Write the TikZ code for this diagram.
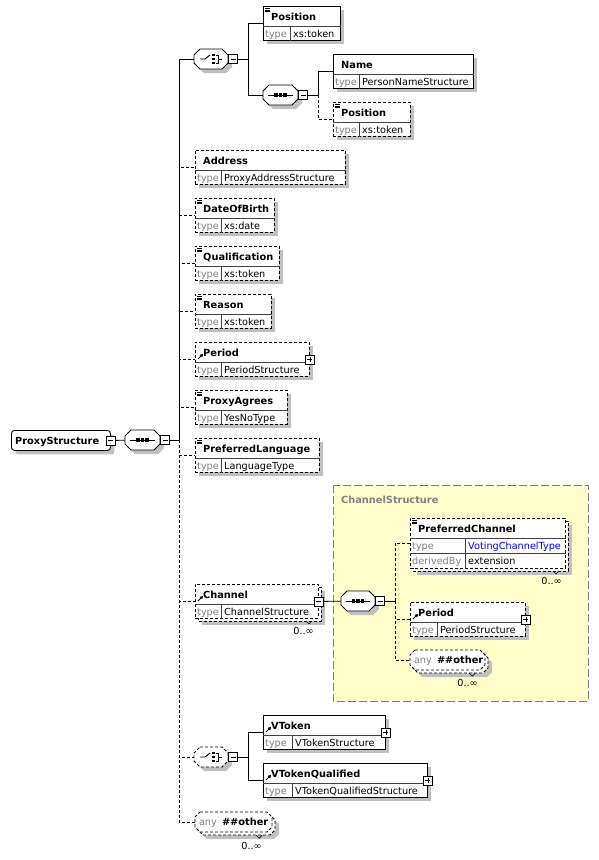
\documentclass[tikz,border=0pt]{standalone}
\usepackage{fontspec}
\setmainfont{DejaVu Sans}
\usetikzlibrary{calc,arrows.meta,shadows}

\definecolor{shadowgray}{RGB}{192,192,192}
\definecolor{lblgray}{RGB}{128,128,128}
\definecolor{ctyellow}{RGB}{255,255,204}
\definecolor{linkblue}{RGB}{0,0,255}

\tikzset{
  optline/.style={dash pattern=on 3pt off 2pt},
  boxsh/.style={drop shadow={shadow xshift=4pt,shadow yshift=-4pt,fill=shadowgray,opacity=1}},
  eboxflat/.style={draw,fill=white,rectangle,inner sep=0pt,anchor=north west,line width=0.9pt},
  ebox/.style={eboxflat,boxsh},
  divline/.style={line width=0.7pt,black!75,solid},
  namelbl/.style={anchor=base west,inner sep=0pt,font=\bfseries\fontsize{9.8}{11}\selectfont},
  typelbl/.style={anchor=base west,inner sep=0pt,text=lblgray,font=\fontsize{9.7}{11}\selectfont},
  vallbl/.style={anchor=base west,inner sep=0pt,font=\fontsize{9.7}{11}\selectfont},
  cardlbl/.style={anchor=base east,inner sep=0pt,font=\fontsize{9.7}{11}\selectfont},
  pmbox/.style={draw,fill=white,solid,rectangle,minimum size=9pt,inner sep=0pt,line width=0.8pt},
  minus/.style={pmbox,path picture={\draw[line width=0.8pt] ([xshift=2pt]path picture bounding box.west) -- ([xshift=-2pt]path picture bounding box.east);}},
  plus/.style={pmbox,path picture={\draw[line width=0.8pt] ([xshift=2pt]path picture bounding box.west) -- ([xshift=-2pt]path picture bounding box.east) ([yshift=-2pt]path picture bounding box.north) -- ([yshift=2pt]path picture bounding box.south);}},
  glyph/.style={line width=0.9pt,solid},
  conn/.style={line width=0.8pt},
  hook/.style={inner sep=0pt,minimum size=0pt},
}

% octagon outline round the origin: width, height, chamfer
\newcommand{\octshape}[3]{(-#1/2+#3,-#2/2) -- (#1/2-#3,-#2/2) -- (#1/2,-#2/2+#3) -- (#1/2,#2/2-#3) -- (#1/2-#3,#2/2) -- (-#1/2+#3,#2/2) -- (-#1/2,#2/2-#3) -- (-#1/2,-#2/2+#3) -- cycle}

% compositor symbol: name, cx, cy, width, height, chamfer, line style
\newcommand{\octo}[7]{%
  \fill[shadowgray,shift={(#2+4,#3+4)}] \octshape{#4}{#5}{#6};
  \filldraw[fill=white,line width=0.9pt,#7,shift={(#2,#3)}] \octshape{#4}{#5}{#6};
  \node[hook,minimum width=#4pt,minimum height=#5pt] (#1) at (#2,#3) {};
}

\newcommand{\seqglyph}[1]{%
  \draw[glyph] ($(#1.west)+(5,0)$) -- ($(#1.east)+(-5,0)$);
  \foreach \d in {-4.5,0,4.5} \fill ($(#1.center)+(\d-1.6,-1.6)$) rectangle ++(3.2,3.2);
}

\newcommand{\choiceglyph}[1]{%
  \draw[glyph] ($(#1.center)+(-11,0)$) -- ++(5,0) -- ++(5,-4);
  \foreach \d in {-4,0,4} \fill ($(#1.center)+(1.2,\d-1.3)$) rectangle ++(2.6,2.6);
  \draw[glyph] ($(#1.center)+(4.5,-4)$) -- ++(2.5,0) -- ++(0,8) -- ++(-2.5,0)
    ($(#1.center)+(7,0)$) -- ++(4,0);
}

% element box: name, x, y, width, type column, element, type, box style
\newcommand{\elem}[8]{%
  \node[#8,minimum width=#4pt,minimum height=34pt] (#1) at (#2,#3) {};
  \draw[divline] ($(#1.north west)+(0,20)$) -- ($(#1.north east)+(0,20)$)
    ($(#1.north west)+(#5,20)$) -- ($(#1.south west)+(#5,0)$);
  \node[namelbl] (#1-n) at ($(#1.north west)+(8,14)$) {#6};
  \node[typelbl] (#1-t) at ($(#1.north west)+(2,31)$) {type};
  \node[vallbl] (#1-v) at ($(#1.north west)+(#5+3,31)$) {#7};
}

\newcommand{\simpleicon}[1]{\draw[line width=0.6pt,solid] \foreach \d in {2,3.8,5.6} {($(#1.north west)+(2,\d)$) -- ++(5,0)};}
\newcommand{\reficon}[1]{\draw[line width=0.9pt,solid,-{Triangle[length=3pt,width=3.5pt]}] ($(#1.north west)+(3,17)$) -- ++(5,-5);}

% second frame behind a repeated box: x, y, width, height
\newcommand{\stackback}[4]{%
  \fill[shadowgray] (#1+7,#2+7) rectangle ++(#3,#4);
  \filldraw[fill=white,line width=0.9pt,optline] (#1+3,#2+3) rectangle ++(#3,#4);
  \draw[line width=0.6pt] (#1+#3-12,#2+#4+3) -- ++(3,3) -- ++(3,-3);
}

% wildcard: name, cx, cy, width
\newcommand{\anybox}[4]{%
  \fill[shadowgray,shift={(#2+7,#3+7)}] \octshape{#4}{20}{5};
  \filldraw[fill=white,line width=0.9pt,optline,shift={(#2+3,#3+3)}] \octshape{#4}{20}{5};
  \filldraw[fill=white,line width=0.9pt,optline,shift={(#2,#3)}] \octshape{#4}{20}{5};
  \node[hook,minimum width=#4pt,minimum height=20pt] (#1) at (#2,#3) {};
  \node[typelbl] (#1-a) at ($(#1.west)+(4,3.5)$) {any};
  \node[namelbl] (#1-o) at ($(#1.west)+(27,3.5)$) {\#\#other};
  \draw[line width=0.6pt] ($(#1.south east)+(-16,3)$) -- ++(3,3) -- ++(3,-3);
}

\begin{document}
\begin{tikzpicture}[x=1pt,y=-1pt]
\useasboundingbox (0,0) rectangle (599,860);

% complex type area
\filldraw[fill=ctyellow,draw=lblgray,line width=0.8pt,dash pattern=on 8pt off 3pt] (333,485) rectangle (588,701);
\node[namelbl,text=lblgray] (ctname) at (341,503) {ChannelStructure};

% root
\node[draw,fill=white,rounded corners=3pt,line width=0.9pt,boxsh,minimum width=99pt,minimum height=20pt,anchor=north west,inner sep=0pt] (root) at (11,430) {};
\node[namelbl] (root-n) at (15,444) {ProxyStructure};
\node[minus] (root-x) at (root.east) {};

% main sequence
\octo{seq}{142.5}{440}{35}{20}{6}{solid}
\seqglyph{seq}
\node[minus] (seq-x) at ($(seq.east)+(5,0)$) {};
\coordinate (sp) at (179,440);

% first choice
\octo{cho}{211}{59}{34}{20}{6}{solid}
\choiceglyph{cho}
\node[minus] (cho-x) at ($(cho.east)+(5,0)$) {};
\coordinate (csp) at (248,59);
\elem{pos1}{263}{6}{77}{27}{Position}{xs:token}{ebox}
\simpleicon{pos1}
\octo{iseq}{280.5}{95}{35}{20}{6}{solid}
\seqglyph{iseq}
\node[minus] (iseq-x) at ($(iseq.east)+(5,0)$) {};
\coordinate (isp) at (318,95);
\elem{name}{333}{54}{140}{26}{Name}{PersonNameStructure}{ebox}
\elem{pos2}{333}{102}{77}{26}{Position}{xs:token}{ebox,optline}
\simpleicon{pos2}

% optional children
\elem{addr}{195}{150}{150}{26}{Address}{ProxyAddressStructure}{ebox,optline}
\elem{dob}{195}{198}{79}{26}{DateOfBirth}{xs:date}{ebox,optline}
\simpleicon{dob}
\elem{qual}{195}{246}{84}{26}{Qualification}{xs:token}{ebox,optline}
\simpleicon{qual}
\elem{reason}{195}{294}{76}{26}{Reason}{xs:token}{ebox,optline}
\simpleicon{reason}
\elem{period}{195}{342}{114}{26}{Period}{PeriodStructure}{ebox,optline}
\reficon{period}
\node[plus] (period-x) at (period.east) {};
\elem{agree}{195}{390}{92}{26}{ProxyAgrees}{YesNoType}{ebox,optline}
\simpleicon{agree}
\elem{plang}{195}{438}{124}{26}{PreferredLanguage}{LanguageType}{ebox,optline}
\simpleicon{plang}

% channel
\stackback{195}{584}{123}{34}
\elem{chan}{195}{584}{123}{26}{Channel}{ChannelStructure}{eboxflat,optline}
\reficon{chan}
\node[minus] (chan-x) at (chan.east) {};
\node[cardlbl] (chan-c) at (314,634) {0..∞};
\octo{cseq}{358}{601}{34}{20}{6}{solid}
\seqglyph{cseq}
\node[minus] (cseq-x) at ($(cseq.east)+(5,0)$) {};
\coordinate (chsp) at (395,601);

\stackback{410}{518}{155}{50}
\node[eboxflat,optline,minimum width=155pt,minimum height=50pt] (pch) at (410,518) {};
\draw[divline] ($(pch.north west)+(0,20)$) -- ($(pch.north east)+(0,20)$)
  ($(pch.north west)+(0,35)$) -- ($(pch.north east)+(0,35)$)
  ($(pch.north west)+(55,20)$) -- ($(pch.south west)+(55,0)$);
\node[namelbl] (pch-n) at ($(pch.north west)+(8,14)$) {PreferredChannel};
\node[typelbl] (pch-t) at ($(pch.north west)+(2,31)$) {type};
\node[vallbl,text=linkblue] (pch-v) at ($(pch.north west)+(58,31)$) {VotingChannelType};
\node[typelbl] (pch-d) at ($(pch.north west)+(2,46)$) {derivedBy};
\node[vallbl] (pch-e) at ($(pch.north west)+(58,46)$) {extension};
\simpleicon{pch}
\node[cardlbl] (pch-c) at (562,584) {0..∞};

\elem{per2}{410}{602}{115}{27}{Period}{PeriodStructure}{ebox,optline}
\reficon{per2}
\node[plus] (per2-x) at (per2.east) {};
\anybox{any2}{447.5}{660}{75}
\node[cardlbl] (any2-c) at (478,686) {0..∞};

% second choice
\octo{cho2}{211}{757}{34}{20}{6}{optline}
\choiceglyph{cho2}
\node[minus] (cho2-x) at ($(cho2.east)+(5,0)$) {};
\coordinate (bsp) at (248,757);
\elem{vtok}{263}{715}{122}{29}{VToken}{VTokenStructure}{ebox}
\reficon{vtok}
\node[plus] (vtok-x) at (vtok.east) {};
\elem{vtq}{263}{763}{164}{29}{VTokenQualified}{VTokenQualifiedStructure}{ebox}
\reficon{vtq}
\node[plus] (vtq-x) at (vtq.east) {};

\anybox{any1}{233.5}{822}{77}
\node[cardlbl] (any1-c) at (262,849) {0..∞};

% connectors
\draw[conn] (root-x) -- (seq);
\draw[conn] (seq-x) -- (sp);
\draw[conn] (sp) |- (cho);
\draw[conn] (cho-x) -- (csp);
\draw[conn] (csp) |- (pos1);
\draw[conn] (csp) |- (iseq);
\draw[conn] (iseq-x) -- (isp);
\draw[conn] (isp) |- (name);
\draw[conn,optline] (isp) |- (pos2);
\foreach \c in {addr,dob,qual,reason,period,agree,plang,chan,cho2,any1}
  \draw[conn,optline] (sp) |- (\c);
\draw[conn] (chan-x) -- (cseq);
\draw[conn] (cseq-x) -- (chsp);
\foreach \c in {pch,per2,any2}
  \draw[conn,optline] (chsp) |- (\c);
\draw[conn] (cho2-x) -- (bsp);
\draw[conn] (bsp) |- (vtok);
\draw[conn] (bsp) |- (vtq);
\end{tikzpicture}
\end{document}
